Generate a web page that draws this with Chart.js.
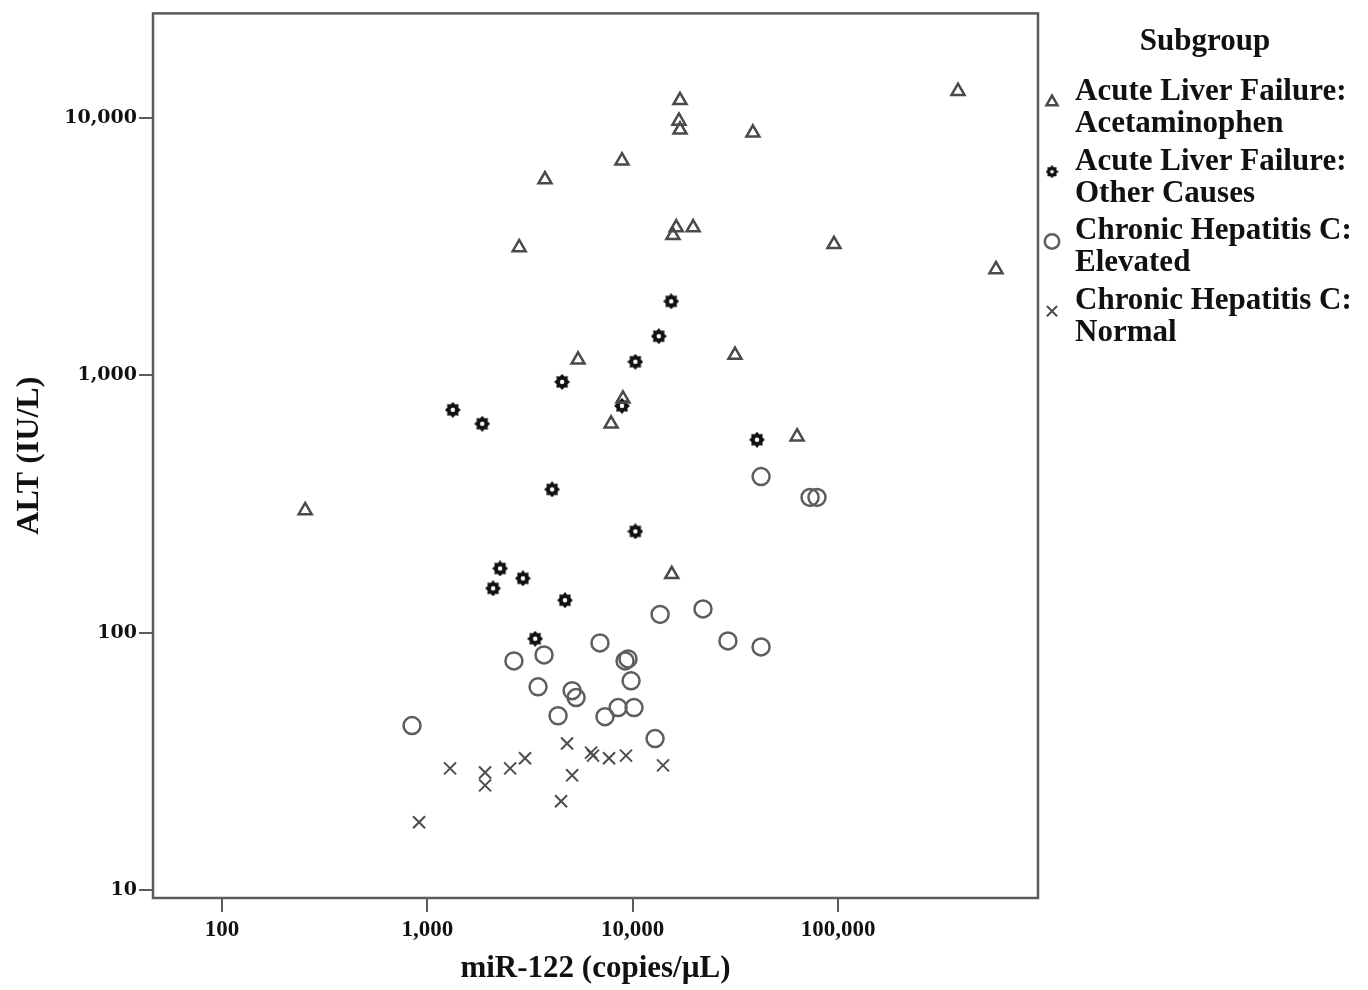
<!DOCTYPE html>
<html>
<head>
<meta charset="utf-8">
<script src="https://cdn.jsdelivr.net/npm/chart.js@4.4.1/dist/chart.umd.min.js"></script>
<style>
  html, body { margin:0; padding:0; background:#fff; }
</style>
</head>
<body>
<canvas id="chart" width="1368" height="990"></canvas>
<script>
// ================= DATA =================
const xTicks = [100, 1000, 10000, 100000];
const yTicks = [10, 100, 1000, 10000];

const legendTitle = "Subgroup";
const seriesNames = [
    ["Acute Liver Failure:", "Acetaminophen"],
    ["Acute Liver Failure:", "Other Causes"],
    ["Chronic Hepatitis C:", "Elevated"],
    ["Chronic Hepatitis C:", "Normal"]
];

// Acute Liver Failure: Acetaminophen
const aceX = [384000, 17000, 16800, 17000, 38500, 8870, 3740, 16300, 19700, 15700, 2800, 95600, 588000, 5420, 31500, 8970, 7850, 63200, 254, 15500];
const aceY = [12700, 11700, 9730, 8990, 8750, 6820, 5760, 3750, 3750, 3500, 3140, 3230, 2580, 1150, 1200, 811, 649, 578, 299, 169];

// Acute Liver Failure: Other Causes
const otherX = [15400, 13400, 10300, 4530, 8870, 1330, 1850, 40300, 4050, 10300, 2260, 2920, 2090, 4680, 3350];
const otherY = [1940, 1420, 1130, 944, 762, 735, 649, 563, 361, 248, 178, 163, 149, 134, 95];

// Chronic Hepatitis C: Elevated
const elevX = [842, 2640, 3700, 3460, 4330, 5070, 5300, 6930, 7330, 8490, 9180, 9490, 9820, 10150, 12850, 13600, 22000, 29100, 42200, 42200, 73100, 79000];
const elevY = [43.7, 77.9, 82.2, 61.8, 47.7, 59.7, 56.1, 91.5, 47.3, 51.3, 77.9, 79.3, 65.2, 51.3, 38.9, 118, 124, 93.1, 88.3, 405, 336, 336];

// Chronic Hepatitis C: Normal
const normX = [911, 1290, 1910, 1910, 2530, 2990, 4480, 4790, 5070, 6270, 6410, 7670, 9280, 14050];
const normY = [18.4, 29.8, 28.7, 25.6, 29.8, 32.6, 22.2, 37.2, 28.0, 34.3, 33.4, 32.6, 33.4, 30.6];

// ================= MARKERS =================
function gearMarker(size){
    const c = document.createElement("canvas");
    c.width = c.height = size;
    const g = c.getContext("2d"), r = size / 2;
    g.fillStyle = "#111";
    g.beginPath();
    for(let k = 0; k < 16; k++){
        const ang = k * Math.PI / 8;
        const rr = k % 2 ? r * 0.74 : r;
        g.lineTo(r + Math.cos(ang) * rr, r + Math.sin(ang) * rr);
    }
    g.closePath();
    g.fill();
    g.fillStyle = "#fff";
    g.beginPath();
    g.arc(r, r, r * 0.28, 0, Math.PI * 2);
    g.fill();
    return c;
}

const pts = (xs, ys) => xs.map((x, i) => ({x: x, y: ys[i]}));

const serif = "'Liberation Serif', 'Times New Roman', serif";

// ================= PLUGINS =================
const frame = {
    id: "frame",
    afterDatasetsDraw(chart){
        const {ctx, chartArea: a} = chart;
        ctx.save();
        ctx.strokeStyle = "#5b5b5b";
        ctx.lineWidth = 2.5;
        ctx.strokeRect(a.left, a.top, a.right - a.left, a.bottom - a.top);
        ctx.restore();
    }
};

const legendBox = {
    id: "legendBox",
    afterDraw(chart){
        const {ctx, chartArea: a} = chart;
        ctx.save();
        ctx.fillStyle = "#111";
        ctx.font = "bold 31px " + serif;
        ctx.textAlign = "center";
        ctx.textBaseline = "middle";
        ctx.fillText(legendTitle, a.right + 167, 42);
        ctx.textAlign = "left";
        chart.data.datasets.forEach((ds, i) => {
            const y0 = 92 + i * 69.7;
            ctx.fillStyle = "#111";
            seriesNames[i].forEach((t, j) => ctx.fillText(t, a.right + 37, y0 + j * 32));
            ctx.fillStyle = ds.backgroundColor;
            ctx.strokeStyle = ds.borderColor;
            ctx.lineWidth = ds.borderWidth;
            Chart.helpers.drawPoint(ctx, {
                pointStyle: ds.legendStyle || ds.pointStyle,
                radius: ds.pointRadius * 0.85,
                borderWidth: ds.borderWidth,
                rotation: 0
            }, a.right + 14, y0 + 10);
        });
        ctx.restore();
    }
};

// ================= CHART =================
new Chart(document.getElementById("chart"), {
    type: "scatter",
    data: {
        datasets: [
            {label: "Acetaminophen", data: pts(aceX, aceY), pointStyle: "triangle", pointRadius: 7.5,
             borderColor: "#4a4a4a", backgroundColor: "rgba(255,255,255,0)", borderWidth: 2.5},
            {label: "Other Causes", data: pts(otherX, otherY), pointStyle: gearMarker(16), legendStyle: gearMarker(13), pointRadius: 8,
             borderColor: "#111", backgroundColor: "#111", borderWidth: 1},
            {label: "Elevated", data: pts(elevX, elevY), pointStyle: "circle", pointRadius: 8.5,
             borderColor: "#5e5e5e", backgroundColor: "rgba(255,255,255,0)", borderWidth: 2.5},
            {label: "Normal", data: pts(normX, normY), pointStyle: "crossRot", pointRadius: 8.5,
             borderColor: "#4d4d4d", backgroundColor: "rgba(255,255,255,0)", borderWidth: 2}
        ]
    },
    options: {
        responsive: false,
        animation: false,
        layout: {padding: {left: 0, right: 330, top: 10, bottom: 0}},
        plugins: {legend: {display: false}, tooltip: {enabled: false}},
        scales: {
            x: {
                type: "logarithmic",
                min: 46.1, max: 942000,
                afterBuildTicks: s => { s.ticks = xTicks.map(v => ({value: v})); },
                afterFit: s => { s.height = 92; },
                border: {display: false},
                grid: {drawOnChartArea: false, drawTicks: true, tickLength: 14, color: "#5b5b5b", lineWidth: 2},
                ticks: {
                    callback: v => Number(v).toLocaleString("en-US"),
                    font: {family: serif, size: 23, weight: "bold"}, color: "#111", padding: 4,
                    maxRotation: 0, autoSkip: false
                },
                title: {display: true, text: "miR-122 (copies/µL)", color: "#111",
                        font: {family: serif, size: 31, weight: "bold"}, padding: {top: 0, bottom: 2}}
            },
            y: {
                type: "logarithmic",
                min: 9.35, max: 25460,
                afterBuildTicks: s => { s.ticks = yTicks.map(v => ({value: v})); },
                afterFit: s => { s.width = 153; },
                border: {display: false},
                grid: {drawOnChartArea: false, drawTicks: true, tickLength: 14, color: "#5b5b5b", lineWidth: 2},
                ticks: {
                    callback: v => Number(v).toLocaleString("en-US"),
                    font: {family: "'DejaVu Serif', serif", size: 19, weight: "bold"}, color: "#111", padding: 2,
                    autoSkip: false
                },
                title: {display: true, text: "ALT (IU/L)", color: "#111",
                        font: {family: serif, size: 32, weight: "bold"}, padding: {top: 11, bottom: 0}}
            }
        }
    },
    plugins: [frame, legendBox]
});
</script>
</body>
</html>
